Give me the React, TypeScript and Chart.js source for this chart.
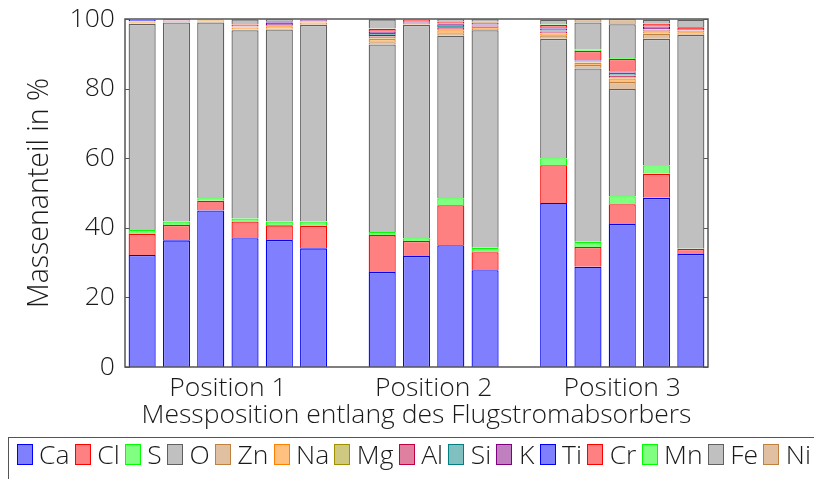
import React, { useEffect, useRef } from "react";
import { Chart, registerables } from "chart.js";

Chart.register(...registerables);

const FONT = "'Open Sans', sans-serif";
const TEXT = "#1a1a1a";

const groupLabels = ["Position 1", "Position 2", "Position 3"];
const groupLabelPositions = [2.5, 8.5, 14];
const barSlots = [0, 1, 2, 3, 4, 5, 7, 8, 9, 10, 12, 13, 14, 15, 16];

const Ca = [32.2, 36.4, 45.0, 37.0, 36.5, 34.1, 27.3, 31.9, 35.0, 27.8, 47.1, 28.8, 41.1, 48.6, 32.5];
const Cl = [6.0, 4.4, 2.8, 4.8, 4.2, 6.4, 10.6, 4.3, 11.5, 5.2, 10.9, 5.7, 5.7, 6.9, 1.4];
const S = [1.2, 1.0, 0.7, 0.9, 1.1, 1.3, 0.9, 0.8, 2.0, 1.3, 2.0, 1.5, 2.3, 2.5, 0.1];
const O = [59.2, 57.2, 50.5, 54.1, 55.2, 56.5, 53.9, 61.3, 46.7, 62.5, 34.3, 49.8, 30.8, 36.3, 61.4];
const Zn = [0.2, 0.1, 0.2, 0.2, 0.2, 0.2, 0.6, 0.1, 0.7, 0.3, 1.0, 1.0, 2.0, 1.5, 0.2];
const Na = [0.3, 0.15, 0.4, 0.5, 0.7, 0.5, 1.0, 0.2, 0.9, 0.6, 0.5, 0.6, 1.0, 0.7, 0.6];
const Mg = [0.05, 0.05, 0.1, 0.1, 0.1, 0.1, 0.6, 0.05, 0.3, 0.1, 0.2, 0.2, 0.2, 0.1, 0.1];
const Al = [0.05, 0.1, 0.05, 0.1, 0.2, 0.2, 0.5, 0.2, 0.5, 0.3, 0.4, 0.2, 0.6, 0.3, 0.2];
const Si = [0.05, 0.05, 0.05, 0.05, 0.1, 0.05, 0.6, 0.1, 0.4, 0.1, 0.3, 0.1, 0.8, 0.1, 0.05];
const K = [0.1, 0.05, 0.05, 0.05, 0.7, 0.3, 0.3, 0.2, 0.5, 0.1, 0.6, 0.2, 0.2, 0.4, 0.1];
const Ti = [0.45, 0.05, 0.05, 0.05, 0.2, 0.1, 0.2, 0.2, 0.2, 0.1, 0.3, 0.1, 0.2, 0.4, 0.05];
const Cr = [0.05, 0.35, 0.05, 0.6, 0.2, 0.1, 0.7, 0.5, 0.6, 0.6, 0.7, 2.6, 3.6, 0.9, 0.9];
const Mn = [0.05, 0.05, 0, 0.05, 0.05, 0.05, 0.1, 0.05, 0.1, 0.2, 0.1, 0.4, 0.3, 0.1, 0.1];
const Fe = [0.05, 0.05, 0.05, 1.4, 0.5, 0.1, 2.6, 0.1, 0.5, 0.7, 1.4, 7.8, 9.7, 1.0, 2.1];
const Ni = [0.05, 0, 0, 0.1, 0.05, 0, 0.1, 0, 0.1, 0.1, 0.2, 1.0, 1.5, 0.2, 0.2];

const seriesNames = ["Ca", "Cl", "S", "O", "Zn", "Na", "Mg", "Al", "Si", "K", "Ti", "Cr", "Mn", "Fe", "Ni"];
const seriesValues = [Ca, Cl, S, O, Zn, Na, Mg, Al, Si, K, Ti, Cr, Mn, Fe, Ni];
const fillColors = [
  "#8080ff", "#ff8080", "#80ff80", "#c0c0c0", "#e0c0a0", "#ffc080", "#cfc880", "#e080a0",
  "#80c0c0", "#c080c0", "#8080ff", "#ff8080", "#80ff80", "#c0c0c0", "#e0c0a0",
];
const borderColors = [
  "#0000ff", "#ff0000", "#00ff00", "#606060", "#c08040", "#ff8000", "#a09000", "#c00040",
  "#008080", "#800080", "#0000ff", "#ff0000", "#00ff00", "#606060", "#c08040",
];

const framePlugin = {
  id: "frame",
  beforeDatasetsDraw(chart: any) {
    const { ctx, chartArea } = chart;
    const y = chart.scales.y;
    ctx.save();
    ctx.strokeStyle = "#555";
    ctx.lineWidth = 1;
    y.ticks.forEach((t: any) => {
      const py = Math.round(y.getPixelForValue(t.value)) + 0.5;
      ctx.beginPath();
      ctx.moveTo(chartArea.left, py);
      ctx.lineTo(chartArea.left + 5, py);
      ctx.moveTo(chartArea.right, py);
      ctx.lineTo(chartArea.right - 5, py);
      ctx.stroke();
    });
    ctx.restore();
  },
  afterDatasetsDraw(chart: any) {
    const { ctx, chartArea } = chart;
    ctx.save();
    ctx.strokeStyle = "#555";
    ctx.lineWidth = 1.5;
    ctx.strokeRect(chartArea.left, chartArea.top, chartArea.right - chartArea.left, chartArea.bottom - chartArea.top);
    ctx.restore();
  },
};

export default function App() {
  const ref = useRef<HTMLCanvasElement | null>(null);

  useEffect(() => {
    if (!ref.current) return;
    const datasets = seriesNames.map((name, i) => ({
      label: name,
      data: seriesValues[i].map((v, j) => ({ x: barSlots[j], y: v })),
      backgroundColor: fillColors[i],
      borderColor: borderColors[i],
      borderWidth: 1.3,
      borderSkipped: "start" as const,
      barPercentage: 0.79,
      categoryPercentage: 1.0,
    }));
    const chart = new Chart(ref.current, {
      type: "bar",
      data: { datasets },
      plugins: [framePlugin],
      options: {
        animation: false,
        responsive: false,
        maintainAspectRatio: false,
        layout: { padding: { left: 12, right: 98, top: 11, bottom: 0 } },
        plugins: { legend: { display: false }, tooltip: { enabled: false } },
        scales: {
          x: {
            type: "linear",
            stacked: true,
            min: -0.5,
            max: 16.5,
            offset: false,
            afterBuildTicks: (s: any) => {
              s.ticks = groupLabelPositions.map((v) => ({ value: v }));
            },
            afterFit: (s: any) => {
              s.height = 70;
              s.paddingLeft = 0;
              s.paddingRight = 0;
            },
            ticks: {
              autoSkip: false,
              maxRotation: 0,
              padding: 6,
              color: TEXT,
              font: { family: FONT, size: 26.5, weight: 300 as any },
              callback: (_v: any, i: number) => groupLabels[i],
            },
            grid: { display: false, drawTicks: false, offset: false },
            border: { display: false },
            title: {
              display: true,
              text: "Messposition entlang des Flugstromabsorbers",
              color: TEXT,
              font: { family: FONT, size: 26.5, weight: 300 as any },
              padding: { top: 0, bottom: 6 },
            },
          },
          y: {
            stacked: true,
            min: 0,
            max: 100,
            afterFit: (s: any) => {
              s.width = 105;
              s.paddingTop = 0;
              s.paddingBottom = 0;
            },
            ticks: {
              stepSize: 20,
              padding: 10,
              color: TEXT,
              font: { family: FONT, size: 26.5, weight: 300 as any, lineHeight: 0.8 },
            },
            grid: { display: false, drawTicks: false },
            border: { display: false },
            title: {
              display: true,
              text: "Massenanteil in %",
              color: TEXT,
              font: { family: FONT, size: 28.5, weight: 300 as any },
              padding: { top: 3, bottom: 4 },
            },
          },
        },
      } as any,
    });
    return () => chart.destroy();
  }, []);

  return (
    <div>
      <canvas ref={ref} width={798} height={429} style={{ display: "block", width: 798, height: 429 }} />
      <div
        style={{
          position: "fixed",
          left: 8,
          top: 437,
          width: 900,
          height: 80,
          boxSizing: "border-box",
          border: "1.5px solid #555",
          paddingLeft: 7.5,
          paddingTop: 1,
          fontFamily: FONT,
          fontWeight: 300,
          fontSize: 26.5,
          color: TEXT,
        }}
      >
        <div style={{ display: "flex", alignItems: "center", height: 30, whiteSpace: "nowrap" }}>
          {seriesNames.map((name, i) => (
            <React.Fragment key={name}>
              <span
                style={{
                  display: "inline-block",
                  boxSizing: "border-box",
                  width: 16,
                  height: 21,
                  background: fillColors[i],
                  border: `1.5px solid ${borderColors[i]}`,
                  marginRight: 6.5,
                  flex: "none",
                }}
              />
              <span style={{ marginRight: 5.2, lineHeight: "30px" }}>{name}</span>
            </React.Fragment>
          ))}
        </div>
      </div>
    </div>
  );
}
